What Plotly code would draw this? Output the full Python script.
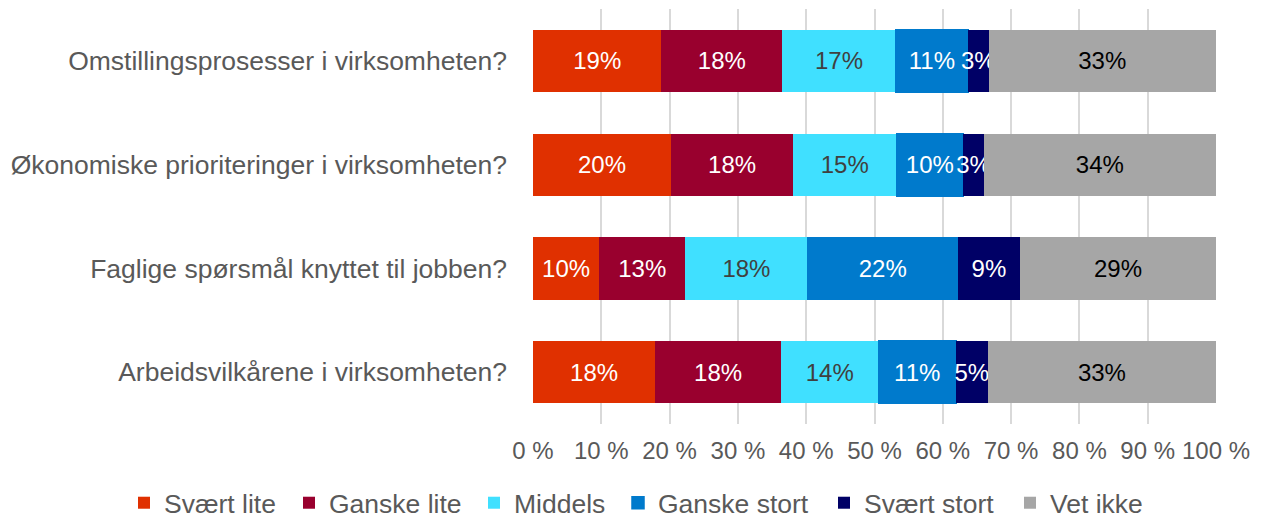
import plotly.graph_objects as go

categories = [
    "Omstillingsprosesser i virksomheten?",
    "Økonomiske prioriteringer i virksomheten?",
    "Faglige spørsmål knyttet til jobben?",
    "Arbeidsvilkårene i virksomheten?",
]
series_names = ["Svært lite", "Ganske lite", "Middels", "Ganske stort", "Svært stort", "Vet ikke"]
svaert_lite = [18.8, 20.2, 9.7, 17.9]
ganske_lite = [17.7, 17.9, 12.6, 18.4]
middels = [16.6, 15.1, 17.9, 14.3]
ganske_stort = [10.6, 9.8, 22.0, 11.3]
svaert_stort = [3.0, 3.0, 9.1, 4.7]
vet_ikke = [33.3, 34.0, 28.7, 33.4]
tick_vals = [0, 10, 20, 30, 40, 50, 60, 70, 80, 90, 100]
tick_text = ["0 %", "10 %", "20 %", "30 %", "40 %", "50 %", "60 %", "70 %", "80 %", "90 %", "100 %"]

series_values = [svaert_lite, ganske_lite, middels, ganske_stort, svaert_stort, vet_ikke]
colors = ["#E03000", "#99002E", "#40E0FF", "#007ACC", "#000066", "#A6A6A6"]
text_colors = ["#FFFFFF", "#FFFFFF", "#404040", "#FFFFFF", "#FFFFFF", "#000000"]
# left edge (px, figure coords) of each legend entry
legend_left_px = [116, 281, 466, 610, 816, 1002]

FONT = "Liberation Sans, Arial, sans-serif"
W, H = 1254, 511

fig = go.Figure()
legend_layout = {}
for i, (name, vals, col, tcol) in enumerate(zip(series_names, series_values, colors, text_colors)):
    lname = "legend" if i == 0 else f"legend{i + 1}"
    line = dict(width=1.5, color=col) if name == "Ganske stort" else dict(width=0)
    fig.add_trace(go.Bar(
        y=categories, x=vals, name=name, orientation="h",
        marker=dict(color=col, line=line),
        texttemplate="%{x:.0f}%", textposition="inside", insidetextanchor="middle",
        textangle=0, constraintext="none",
        textfont=dict(color=tcol, size=24, family=FONT),
        width=0.6, hoverinfo="skip", legend=lname,
    ))
    legend_layout[lname] = dict(
        orientation="h", xref="container", yref="container",
        x=legend_left_px[i] / W, xanchor="left", y=(H - 495) / H, yanchor="middle",
        font=dict(size=26.5, color="#595959", family=FONT),
        itemwidth=30, bgcolor="rgba(0,0,0,0)",
    )

fig.update_layout(
    barmode="stack",
    width=W, height=H,
    margin=dict(l=525, r=46, t=1, b=95, autoexpand=False),
    paper_bgcolor="white", plot_bgcolor="white",
    font=dict(family=FONT, size=24, color="#595959"),
    uniformtext=dict(minsize=24, mode="show"),
    showlegend=True,
    **legend_layout,
)
fig.update_xaxes(range=[0, 100], tickvals=tick_vals, ticktext=tick_text,
                 showgrid=True, gridcolor="#D9D9D9", gridwidth=2,
                 zeroline=False, showline=False, ticks="", automargin=False,
                 ticklabelstandoff=10,
                 tickfont=dict(size=24, color="#595959"))
fig.update_yaxes(autorange="reversed", showgrid=False, zeroline=False, showline=False, ticks="",
                 automargin=False, ticklabelstandoff=25,
                 tickfont=dict(size=26.5, color="#595959"))

fig.write_html("out.html")
